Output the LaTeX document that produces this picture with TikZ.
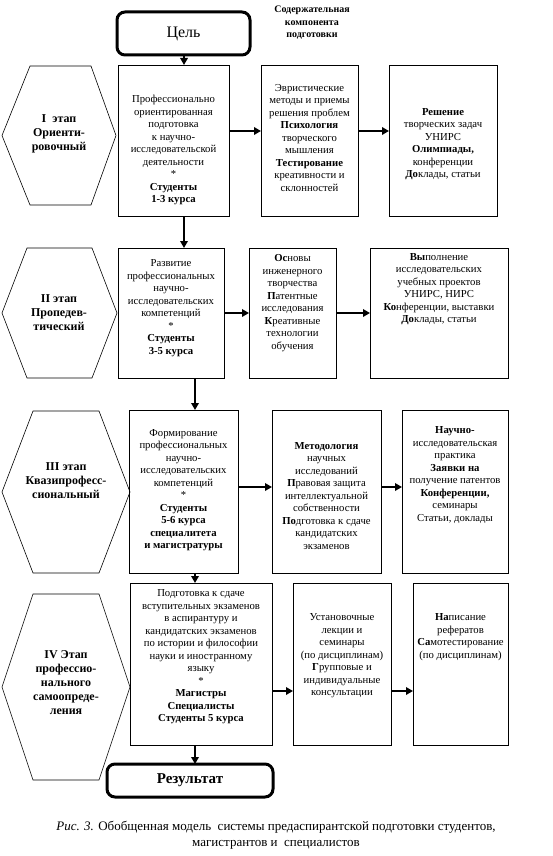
\documentclass[tikz,border=0pt]{standalone}
\usepackage{fontspec}
\setmainfont{Liberation Serif}
\usetikzlibrary{arrows.meta,fit}

\begin{document}
\begin{tikzpicture}[
  x=1pt,
  y=-1pt,
  line join=miter,
  card/.style={
    draw=black,
    line width=0.9pt,
    inner sep=0pt,
    outer sep=0pt
  },
  stage/.style={
    draw=black,
    line width=0.6pt
  },
  endbox/.style={
    draw=black,
    line width=3pt,
    rounded corners=8pt,
    inner sep=0pt,
    outer sep=0pt
  },
  flow/.style={
    draw=black,
    line width=2.8pt,
    -{Triangle[length=7pt,width=7.5pt]}
  },
  txt/.style={
    align=center,
    inner sep=0pt,
    font=\fontsize{10.7}{12.5}\selectfont
  },
  stagetxt/.style={
    align=center,
    inner sep=0pt,
    font=\fontsize{12}{14}\selectfont\bfseries
  }
]

  % рамка рисунка
  \path[use as bounding box]
    (0,0) rectangle (553,856);

  % Цель и заголовок
  \node[endbox, fit={(117,12) (250,55)}] (goal) {};
  \node[inner sep=0pt, font=\fontsize{16}{18}\selectfont]
    (goaltxt) at (goal.center) {Цель};

  \node[align=center, inner sep=0pt,
        font=\fontsize{10}{12.5}\selectfont\bfseries]
    (head) at (312,23)
    {Содержательная\\компонента\\подготовки};

  % I этап
  \draw[stage]
    (2,135.5) -- (30,66) -- (91,66) -- (116,135.5)
    -- (91,205) -- (30,205) -- cycle;
  \node[stagetxt] (s1) at (59,134) {I\ \ этап\\Ориенти-\\ровочный};

  \node[card, fit={(118,65) (229,216)}] (r1c1) {};
  \node[card, fit={(261,65) (358,216)}] (r1c2) {};
  \node[card, fit={(389,65) (497,216)}] (r1c3) {};

  \node[txt] (t11) at (173.5,150) {
    Профессионально\\ориентированная\\подготовка\\к научно-\\
    исследовательской\\деятельности\\*\\
    \textbf{Студенты}\\\textbf{1-3 курса}};
  \node[txt] (t12) at (309.5,138) {
    Эвристические\\методы и приемы\\решения проблем\\
    \textbf{Психология}\\творческого\\мышления\\
    \textbf{Тестирование}\\креативности и\\склонностей};
  \node[txt] (t13) at (443,144) {
    \textbf{Решение}\\творческих задач\\УНИРС\\
    \textbf{Олимпиады,}\\конференции\\\textbf{До}клады, статьи};

  % II этап
  \draw[stage]
    (2,313) -- (27,248) -- (92,248) -- (117,313)
    -- (92,378) -- (27,378) -- cycle;
  \node[stagetxt] (s2) at (59,313) {II этап\\Пропедев-\\тический};

  \node[card, fit={(118,248) (224,378)}] (r2c1) {};
  \node[card, fit={(249,248) (336,378)}] (r2c2) {};
  \node[card, fit={(370,248) (508,378)}] (r2c3) {};

  \node[txt] (t21) at (171,308) {
    Развитие\\профессиональных\\научно-\\исследовательских\\
    компетенций\\*\\\textbf{Студенты}\\\textbf{3-5 курса}};
  \node[txt] (t22) at (292.5,303) {
    \textbf{Ос}новы\\инженерного\\творчества\\
    \textbf{П}атентные\\исследования\\
    \textbf{К}реативные\\технологии\\обучения};
  \node[txt] (t23) at (439,289) {
    \textbf{Вы}полнение\\исследовательских\\учебных проектов\\
    УНИРС, НИРС\\\textbf{Ко}нференции, выставки\\
    \textbf{До}клады, статьи};

  % III этап
  \draw[stage]
    (2,492) -- (33,411) -- (99,411) -- (130,492)
    -- (99,573) -- (33,573) -- cycle;
  \node[stagetxt] (s3) at (66,481) {III этап\\Квазипрофесс-\\сиональный};

  \node[card, fit={(129,410) (238,573)}] (r3c1) {};
  \node[card, fit={(272,410) (381,573)}] (r3c2) {};
  \node[card, fit={(402,410) (508,573)}] (r3c3) {};

  \node[txt] (t31) at (183.5,490) {
    Формирование\\профессиональных\\научно-\\
    исследовательских\\компетенций\\*\\
    \textbf{Студенты}\\\textbf{5-6 курса}\\
    \textbf{специалитета}\\\textbf{и магистратуры}};
  \node[txt] (t32) at (326.5,496) {
    \textbf{Методология}\\научных\\исследований\\
    \textbf{П}равовая защита\\интеллектуальной\\собственности\\
    \textbf{По}дготовка к сдаче\\кандидатских\\экзаменов};
  \node[txt] (t33) at (455,475) {
    \textbf{Научно-}\\исследовательская\\практика\\
    \textbf{Заявки на}\\получение патентов\\
    \textbf{Конференции,}\\семинары\\Статьи, доклады};

  % IV этап
  \draw[stage]
    (2,687) -- (33,594) -- (99,594) -- (130,687)
    -- (99,780) -- (33,780) -- cycle;
  \node[stagetxt] (s4) at (66,683)
    {IV Этап\\профессио-\\нального\\самоопреде-\\ления};

  \node[card, fit={(130,583) (272,745)}] (r4c1) {};
  \node[card, fit={(293,583) (391,745)}] (r4c2) {};
  \node[card, fit={(413,583) (508,745)}] (r4c3) {};

  \node[txt] (t41) at (201,657) {
    Подготовка к сдаче\\вступительных экзаменов\\в аспирантуру и\\
    кандидатских экзаменов\\по истории и философии\\
    науки и иностранному\\языку\\*\\
    \textbf{Магистры}\\\textbf{Специалисты}\\\textbf{Студенты 5 курса}};
  \node[txt] (t42) at (342,656) {
    Установочные\\лекции и\\семинары\\(по дисциплинам)\\
    \textbf{Г}рупповые и\\индивидуальные\\консультации};
  \node[txt] (t43) at (460.5,637) {
    \textbf{На}писание\\рефератов\\
    \textbf{Са}мотестирование\\(по дисциплинам)};

  % Результат
  \node[endbox, fit={(107,764) (273,797)}] (result) {};
  \node[inner sep=0pt, font=\fontsize{15}{17}\selectfont\bfseries]
    (resulttxt) at (result.center) {Результат};

  % линии стрелок
  \coordinate (lane1) at (184,0);
  \coordinate (lane2) at (195,0);
  \coordinate (row1) at (0,131);
  \coordinate (row2) at (0,313);
  \coordinate (row3) at (0,487);
  \coordinate (row4) at (0,691);

  % вертикальные стрелки
  \draw[flow] (goal.south -| lane1) -- (r1c1.north -| lane1);
  \draw[flow] (r1c1.south -| lane1) -- (r2c1.north -| lane1);
  \draw[flow] (r2c1.south -| lane2) -- (r3c1.north -| lane2);
  \draw[flow] (r3c1.south -| lane2) -- (r4c1.north -| lane2);
  \draw[flow] (r4c1.south -| lane2) -- (result.north -| lane2);

  % горизонтальные стрелки
  \draw[flow] (r1c1.east |- row1) -- (r1c2.west |- row1);
  \draw[flow] (r1c2.east |- row1) -- (r1c3.west |- row1);
  \draw[flow] (r2c1.east |- row2) -- (r2c2.west |- row2);
  \draw[flow] (r2c2.east |- row2) -- (r2c3.west |- row2);
  \draw[flow] (r3c1.east |- row3) -- (r3c2.west |- row3);
  \draw[flow] (r3c2.east |- row3) -- (r3c3.west |- row3);
  \draw[flow] (r4c1.east |- row4) -- (r4c2.west |- row4);
  \draw[flow] (r4c2.east |- row4) -- (r4c3.west |- row4);

  % подпись
  \node[align=center, inner sep=0pt,
        font=\fontsize{13}{16.5}\selectfont]
    (caption) at (276,835)
    {\textit{Рис. 3.} Обобщенная модель\ \ системы предаспирантской подготовки студентов,\\
     магистрантов и\ \ специалистов};

\end{tikzpicture}
\end{document}
